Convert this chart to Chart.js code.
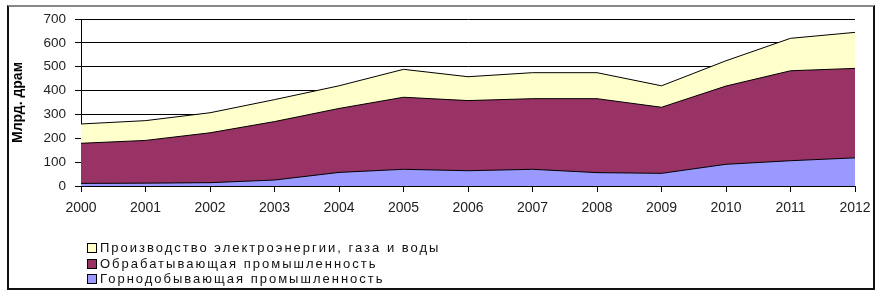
<!DOCTYPE html>
<html>
<head>
<meta charset="utf-8">
<script src="https://cdn.jsdelivr.net/npm/chart.js@4"></script>
<style>
  body { margin: 0; background: #fff; }
  #wrap { position: relative; width: 882px; height: 297px; }
  #frame { position: absolute; left: 7px; top: 5px; width: 864px; height: 281px;
    border: 2px solid #111; border-top-color: #888; }
  #legend { position: absolute; left: 87px; top: 240px; font: 13px "Liberation Sans", Arial, sans-serif;
    color: #111; letter-spacing: 2px; }
  #legend div { height: 15.7px; line-height: 15.7px; white-space: nowrap; }
  #legend span { display: inline-block; width: 8px; height: 8px; border: 1px solid #000;
    margin-right: 3px; vertical-align: -1px; }
</style>
</head>
<body>
<div id="wrap">
  <canvas id="areaChart" width="882" height="297"></canvas>
  <div id="frame"></div>
  <div id="legend"></div>
</div>
<script>
var years = ["2000", "2001", "2002", "2003", "2004", "2005", "2006",
  "2007", "2008", "2009", "2010", "2011", "2012"];
var mining = [11, 12, 14, 25, 57, 70, 64, 70, 56, 53, 91, 106, 118];
var manufacturing = [168, 179, 209, 245, 268, 302, 294, 296, 310, 277, 328, 377, 375];
var electricity = [81, 83, 84, 92, 95, 117, 100, 109, 109, 90, 106, 136, 151];
var seriesNames = ["Горнодобывающая промышленность", "Обрабатывающая промышленность",
  "Производство электроэнергии, газа и воды"];
var seriesColors = ["#9999ff", "#993366", "#ffffcc"];

document.addEventListener("DOMContentLoaded", function () {
  var ctx = document.getElementById("areaChart").getContext("2d");
  var values = [mining, manufacturing, electricity];
  var datasets = values.map(function (v, i) {
    return {
      label: seriesNames[i],
      data: v,
      backgroundColor: seriesColors[i],
      borderColor: "#000",
      borderWidth: 1,
      fill: true,
      pointRadius: 0,
      tension: 0
    };
  });

  new Chart(ctx, {
    type: "line",
    data: { labels: years, datasets: datasets },
    options: {
      responsive: false,
      animation: false,
      layout: { padding: { left: 8, top: 19, right: 27, bottom: 81 } },
      plugins: { legend: { display: false }, tooltip: { enabled: false } },
      scales: {
        x: {
          offset: false,
          grid: { drawOnChartArea: false, color: "#000", tickLength: 6 },
          border: { color: "#000" },
          ticks: { color: "#222", font: { family: "Liberation Sans", size: 14 },
            maxRotation: 0, padding: 8 },
          afterFit: function (s) { s.height = 30; }
        },
        y: {
          stacked: true,
          min: 0, max: 700,
          grid: { color: "#000", tickLength: 6 },
          border: { color: "#000" },
          ticks: { stepSize: 100, color: "#222", font: { family: "Liberation Sans", size: 13.5 }, padding: 9 },
          title: { display: true, text: "Млрд. драм", color: "#000",
            font: { family: "Liberation Sans", size: 14, weight: "bold" }, padding: 2 },
          afterFit: function (s) { s.width = 73; }
        }
      }
    }
  });

  var legend = document.getElementById("legend");
  for (var i = seriesNames.length - 1; i >= 0; i--) {
    var row = document.createElement("div");
    row.innerHTML = '<span style="background:' + seriesColors[i] + '"></span>' + seriesNames[i];
    legend.appendChild(row);
  }
});
</script>
</body>
</html>
